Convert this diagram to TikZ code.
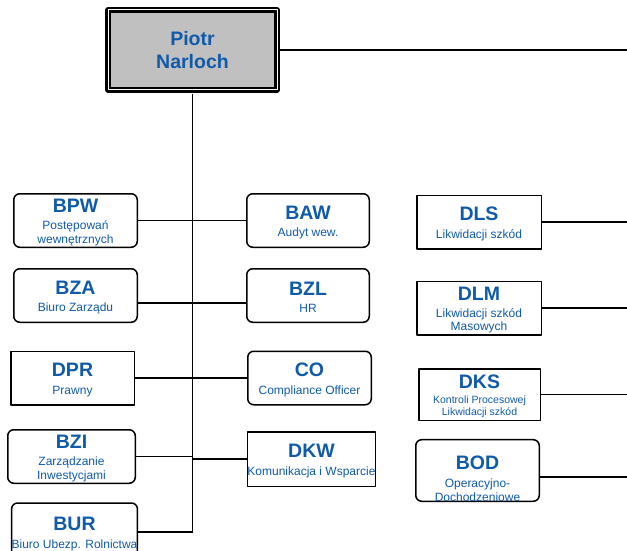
\documentclass[tikz,border=0pt]{standalone}
\usepackage{fontspec}
\setmainfont{Liberation Sans}
\usetikzlibrary{positioning,calc}
\definecolor{unitblue}{RGB}{16,90,170}
\definecolor{headgrey}{RGB}{192,192,192}
\newcommand{\unitname}[1]{{\fontsize{19.5}{20}\selectfont\bfseries\rule{0pt}{17pt}#1}\\[3.5pt]}

\begin{document}
\begin{tikzpicture}[x=1pt,y=-1pt,line join=round,
  unit/.style={draw,line width=1.5pt,text=unitblue,align=center,inner sep=0pt,
    font=\fontsize{12}{14}\selectfont,minimum width=123.5pt,minimum height=53.5pt},
  unitr/.style={unit,rounded corners=6pt},
  link/.style={line width=1.3pt}]
\useasboundingbox (0,0) rectangle (627,551);
\coordinate (rim) at (627,0);
\node[draw,double,double distance=1pt,line width=2.3pt,fill=headgrey,minimum width=169pt,
  minimum height=80pt,text=unitblue,align=center,font=\fontsize{19.5}{23}\selectfont\bfseries]
  (head) at (192.5,50) {Piotr\\Narloch};
% left column
\node[unitr] (bpw) at (75.5,220.5) {\unitname{BPW}Postępowań\\wewnętrznych};
\node[unitr] (bza) at (75.5,295.5) {\unitname{BZA}Biuro Zarządu};
\node[unit] (dpr) at (72.5,378) {\unitname{DPR}Prawny};
\node[unitr,minimum width=127.5pt] (bzi) at (71.5,456.5) {\unitname{BZI}Zarządzanie\\Inwestycjami};
\node[unitr,minimum height=58pt] (bur) at (74.5,532) {\unitname{BUR}Biuro Ubezp. Rolnictwa};
% middle column
\node[unitr,minimum width=122.5pt] (baw) at (308,220.5) {\unitname{BAW}Audyt wew.};
\node[unitr,minimum width=122.5pt] (bzl) at (308,295.5) {\unitname{BZL}HR};
\node[unitr] (co) at (309.5,378) {\unitname{CO}Compliance Officer};
\node[unit,minimum width=127.5pt,minimum height=54.5pt] (dkw) at (311.5,459) {\unitname{DKW}Komunikacja i Wsparcie};
% right column
\node[unit,minimum width=124.5pt] (dls) at (479,222) {\unitname{DLS}Likwidacji szkód};
\node[unit,minimum width=124.5pt,font=\fontsize{12}{13}\selectfont] (dlm) at (479,308) {\unitname{DLM}Likwidacji szkód\\Masowych};
\node[unit,minimum width=121.5pt,minimum height=51.5pt,font=\fontsize{10.5}{12}\selectfont] (dks) at (479.5,394.5) {\unitname{DKS}Kontroli Procesowej\\Likwidacji szkód};
\node[unitr] (bod) at (477.5,470.5) {{\fontsize{19.5}{20}\selectfont\bfseries\rule{0pt}{30pt}BOD}\\[3.5pt]Operacyjno-\\Dochodzeniowe};
% connectors
\draw[link] (head.east) -- (head.east -| rim);
\draw[link,shorten <=2.8pt] (head.south) -- (head.south |- bur.east);
\draw[link] (bpw.east) -- (bpw.east -| head.south);
\draw[link] ([yshift=-7.5pt]bza.east) -- ([yshift=-7.5pt]bza.east -| head.south);
\draw[link] (dpr.east) -- (dpr.east -| head.south);
\draw[link] (bzi.east) -- (bzi.east -| head.south);
\draw[link] (bur.east) -- (bur.east -| head.south);
\draw[link] (baw.west) -- (baw.west -| head.south);
\draw[link] ([yshift=-7.5pt]bzl.west) -- ([yshift=-7.5pt]bzl.west -| head.south);
\draw[link] (co.west) -- (co.west -| head.south);
\draw[link] (dkw.west) -- (dkw.west -| head.south);
\draw[link] (dls.east) -- (dls.east -| rim);
\draw[link] (dlm.east) -- (dlm.east -| rim);
\draw[link] (dks.east) -- (dks.east -| rim);
\draw[link] ([yshift=-6.5pt]bod.east) -- ([yshift=-6.5pt]bod.east -| rim);
\end{tikzpicture}
\end{document}
